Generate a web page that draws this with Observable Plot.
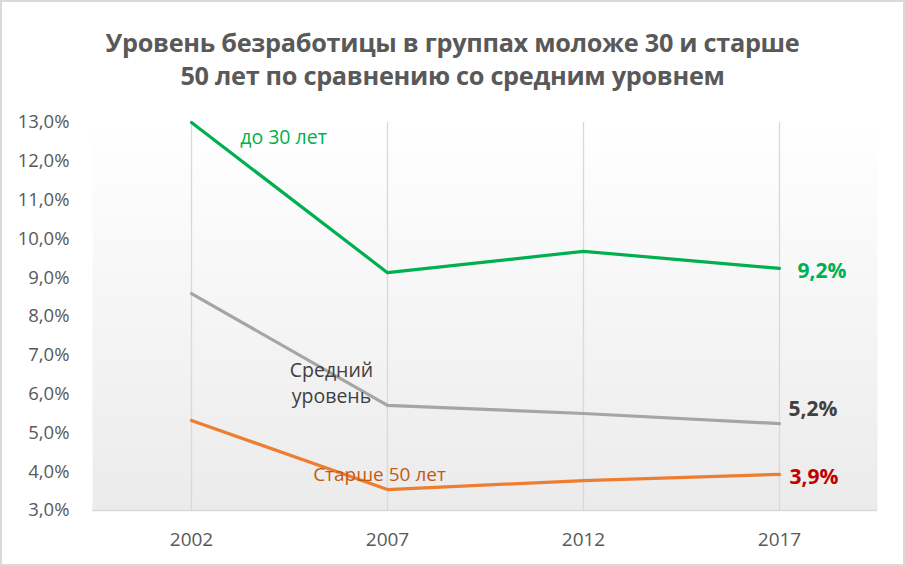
<!DOCTYPE html>
<html>
<head>
<meta charset="utf-8">
<script src="https://cdn.jsdelivr.net/npm/d3@7"></script>
<script src="https://cdn.jsdelivr.net/npm/@observablehq/plot@0.6"></script>
<style>
  html, body { margin: 0; padding: 0; background: #fff; }
  #wrap { position: relative; width: 905px; height: 566px; background: #fff; overflow: hidden; font-family: "Open Sans", sans-serif; }
  #title { position: absolute; left: 0; top: 26px; width: 905px; text-align: center; font-weight: bold; font-size: 25.3px; line-height: 33px; color: #595959; letter-spacing: -0.3px; }
  #chart { position: absolute; left: 0; top: 100px; }
  #border { position: absolute; left: 0; top: 0; width: 905px; height: 566px; box-sizing: border-box; border: 2px solid #d9d9d9; pointer-events: none; }
</style>
</head>
<body>
<div id="wrap">
  <div id="title">Уровень безработицы в группах моложе 30 и старше<br>50 лет по сравнению со средним уровнем</div>
  <div id="chart"></div>
  <div id="border"></div>
</div>
<script>
const years = ["2002", "2007", "2012", "2017"];
const seriesNames = ["до 30 лет", "Средний уровень", "Старше 50 лет"];
const young = [13.0, 9.13, 9.68, 9.24];
const average = [8.59, 5.71, 5.5, 5.24];
const older = [5.32, 3.54, 3.77, 3.93];
const yTicks = [3, 4, 5, 6, 7, 8, 9, 10, 11, 12, 13];

const lineColors = ["#00b050", "#a5a5a5", "#ed7d31"];
const endColors = ["#00b050", "#404040", "#c00000"];

const allValues = [young, average, older];
const rows = [];
seriesNames.forEach((s, i) => years.forEach((y, j) => rows.push({series: s, year: y, value: allValues[i][j]})));

const fmt = v => d3.format(".1f")(v).replace(".", ",") + "%";

const ends = seriesNames.map((s, i) => ({series: s, year: years[3], value: allValues[i][3], color: endColors[i]}));

// inline annotation anchors (data space)
const annYoung = [{year: "2002", value: 12.61, text: "до 30 лет"}];
const annAvg = [{year: "2007", value: 6.33, text: "Средний\nуровень"}];
const annOld = [{year: "2007", value: 3.93, text: "Старше 50 лет"}];

const plot = Plot.plot({
  width: 905,
  height: 466,
  marginLeft: 92,
  marginRight: 28,
  marginTop: 22,
  marginBottom: 56,
  style: {fontFamily: "Open Sans, sans-serif", background: "transparent", overflow: "visible"},
  x: {type: "point", domain: years, padding: 0.5, label: null, tickSize: 0},
  y: {domain: [3, 13], ticks: yTicks, tickFormat: fmt, label: null, tickSize: 0},
  marks: [
    Plot.frame({fill: "url(#bgGrad)", stroke: null}),
    Plot.ruleX(years, {stroke: "#d9d9d9", strokeWidth: 1.3}),
    Plot.ruleY([3], {stroke: "#d9d9d9", strokeWidth: 1.5}),
    Plot.axisY({ticks: yTicks, tickFormat: fmt, tickSize: 0, tickPadding: 23, fontSize: 18.5, fill: "#595959", label: null}),
    Plot.axisX({tickSize: 0, tickPadding: 22, fontSize: 19, fill: "#595959", label: null}),
    Plot.line(rows, {x: "year", y: "value", z: "series", stroke: d => lineColors[seriesNames.indexOf(d.series)], strokeWidth: 3.2, strokeLinejoin: "round"}),
    Plot.text(annYoung, {x: "year", y: "value", text: "text", dx: 92, fill: "#00b050", fontSize: 19.5}),
    Plot.text(annAvg, {x: "year", y: "value", text: "text", dx: -56, fill: "#404040", fontSize: 19.5, lineHeight: 1.35}),
    Plot.text(annOld, {x: "year", y: "value", text: "text", dx: -8, fill: "#c55a11", fontSize: 19}),
    Plot.text(ends, {x: "year", y: "value", text: d => fmt(d.value), fill: d => d.color, fontSize: 21, fontWeight: "bold", textAnchor: "start"})
  ]
});

// gradient defs
const svg = d3.select(plot);
const defs = svg.insert("defs", ":first-child");
const g = defs.append("linearGradient").attr("id", "bgGrad").attr("x1", 0).attr("y1", 0).attr("x2", 0).attr("y2", 1);
g.append("stop").attr("offset", "0%").attr("stop-color", "#ffffff");
g.append("stop").attr("offset", "100%").attr("stop-color", "#ebebeb");

document.getElementById("chart").appendChild(plot);

// offset end labels (per-series nudges)
const endOffsets = [[18, 3], [9, -14], [10, 3]];
const endTexts = svg.selectAll("g[aria-label='text']").filter((d, i, n) => i === 3).selectAll("text");
endTexts.each(function(d, i) {
  const t = d3.select(this);
  const tr = t.attr("transform") || "";
  t.attr("transform", tr + ` translate(${endOffsets[i][0]},${endOffsets[i][1]})`);
});
</script>
</body>
</html>
